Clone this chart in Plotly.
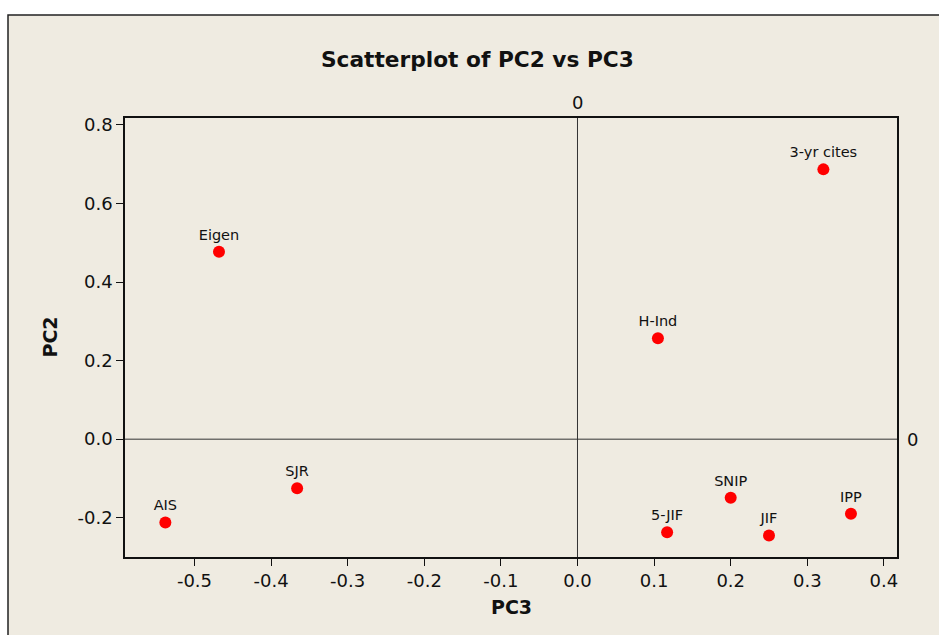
import plotly.graph_objects as go

# Data
labels = ["AIS", "SJR", "Eigen", "3-yr cites", "H-Ind", "SNIP", "5-JIF", "JIF", "IPP"]
pc3 = [-0.538, -0.366, -0.468, 0.321, 0.105, 0.200, 0.117, 0.250, 0.357]
pc2 = [-0.212, -0.125, 0.477, 0.687, 0.257, -0.149, -0.237, -0.245, -0.190]

x_ticks = [-0.5, -0.4, -0.3, -0.2, -0.1, 0.0, 0.1, 0.2, 0.3, 0.4]
x_ticktext = ["-0.5", "-0.4", "-0.3", "-0.2", "-0.1", "0.0", "0.1", "0.2", "0.3", "0.4"]
y_ticks = [-0.2, 0.0, 0.2, 0.4, 0.6, 0.8]
y_ticktext = ["-0.2", "0.0", "0.2", "0.4", "0.6", "0.8"]

W, H = 939, 635
L, R, T, B = 125, 42, 118, 78
pw, ph = W - L - R, H - T - B

def px(x):
    return (x - L) / pw

def py(y):
    return (H - B - y) / ph

FONT = "DejaVu Sans"
beige = "#EFEBE1"
ink = "#111111"

fig = go.Figure()
fig.add_trace(go.Scatter(
    x=pc3, y=pc2, mode="markers+text", text=labels,
    textposition="top center",
    textfont=dict(family=FONT, size=14.5, color=ink),
    marker=dict(color="#FF0000", size=12),
    showlegend=False, cliponaxis=False,
))

axis_common = dict(showgrid=False, zeroline=False, showline=True, mirror=True,
                   linecolor=ink, linewidth=1.5, ticks="outside", ticklen=7,
                   tickcolor=ink, tickfont=dict(size=18, family=FONT, color=ink))

fig.update_layout(
    width=W, height=H,
    margin=dict(l=L, r=R, t=T, b=B),
    paper_bgcolor="white", plot_bgcolor="white",
    font=dict(family=FONT, color=ink),
    xaxis=dict(range=[-0.5907, 0.4171], tickvals=x_ticks, ticktext=x_ticktext, **axis_common),
    yaxis=dict(range=[-0.300, 0.8178], tickvals=y_ticks, ticktext=y_ticktext, **axis_common),
)

# background panel
fig.add_shape(type="rect", xref="paper", yref="paper",
              x0=px(8), x1=px(W + 10), y0=py(H + 10), y1=py(15),
              fillcolor=beige, line=dict(color="#222222", width=1.5), layer="below")
# reference lines
fig.add_shape(type="line", xref="x", yref="paper", x0=0, x1=0, y0=0, y1=1,
              line=dict(color="#333333", width=1), layer="below")
fig.add_shape(type="line", xref="paper", yref="y", x0=0, x1=1, y0=0, y1=0,
              line=dict(color="#333333", width=1), layer="below")

def note(x, xref, y, yref, text, size, angle=0):
    fig.add_annotation(x=x, xref=xref, y=y, yref=yref, text=text, showarrow=False,
                       xanchor="center", yanchor="middle", textangle=angle,
                       font=dict(size=size, family=FONT, color=ink))

note(0, "x", py(103), "paper", "0", 18)
note(px(912), "paper", 0, "y", "0", 18)
note(px(477), "paper", py(60), "paper", "<b>Scatterplot of PC2 vs PC3</b>", 21.7)
note(0.5, "paper", py(607), "paper", "<b>PC3</b>", 19)
note(px(49), "paper", 0.5, "paper", "<b>PC2</b>", 19, angle=-90)

fig.write_html("out.html", config={"displayModeBar": False},
               post_script="document.body.style.margin='0';")
